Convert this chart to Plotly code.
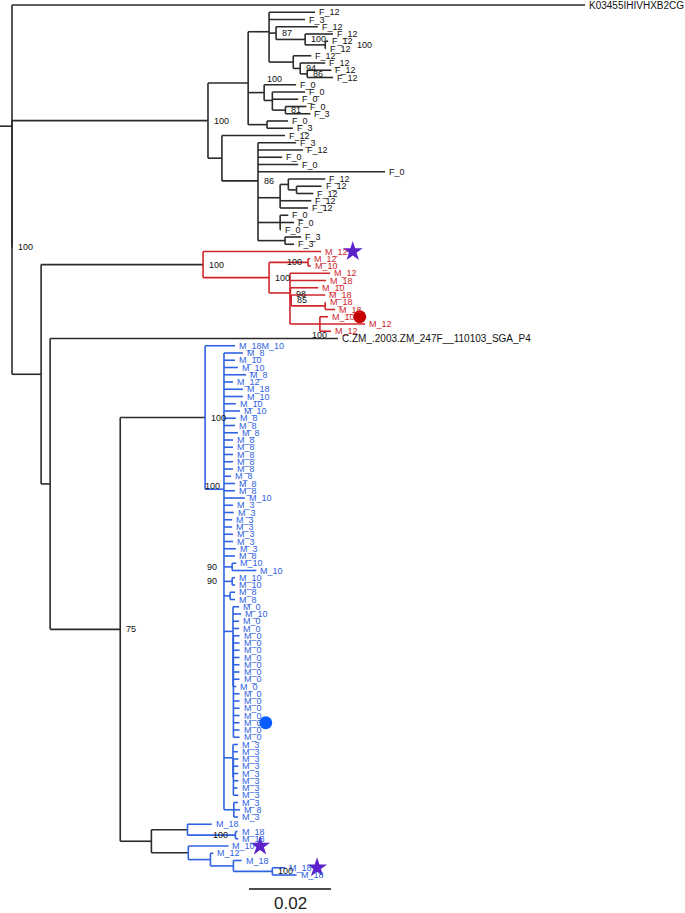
import plotly.graph_objects as go

# ------------------------------------------------------------------ data
# Branch lengths in substitutions/site; internal labels are bootstrap support.
# "#ID" names a node, "^star"/"^dot" flags a highlighted sequence.
F_CLADE = (
    "(((F_12:0.0112,F_3:0.0088,(F_12:0.0102,(F_12:0.0068,(F_12:0.0007,F_12:0.0002)100#NY:0.0049)100:0.0071)87:0.0017,"
    "(F_12:0.0044,(F_12:0.0061,(F_12:0.0059,F_12:0.0063)86:0.0017)94:0.0017):0.0059):0.0051,"
    "(F_0:0.0078,(F_0:0.0080,F_0:0.0063,(F_0:0.0051,F_3:0.0061)81:0.0032):0.0020):0.0039,"
    "(F_0:0.0051,F_3:0.0063):0.0046)100#F1:0.0098,"
    "(F_12:0.0154,(F_3:0.0093,F_12:0.0110,F_0:0.0059,F_0:0.0098,F_0:0.0310,"
    "((F_12:0.0090,(F_12:0.0061,F_12:0.0041):0.0020):0.0020,F_12:0.0076,F_12:0.0068):0.0054,"
    "(F_0:0.0020,F_0:0.0034,F_0:0.0002):0.0054,(F_3:0.0039,F_3:0.0022):0.0066)86:0.0088):0.0034)100:0.0478"
)

RED_CLADE = (
    "(M_12^star:0.0288,((M_12:0.0005,M_10:0.0007)100#R1:0.0095,"
    "(M_12:0.0098,M_18:0.0088,(M_10:0.0068,(M_18:0.0083,(M_18:0.0001,M_18:0.0024):0.0083)85:0.0002)98:0.0001,"
    "(M_10^dot:0.0020,M_12:0.0110,M_12:0.0027):0.0073):0.0051)100:0.0161)100:0.0395"
)

BLUE_A = (
    "(M_18M_10:0.0073,(M_8:0.0046,M_10:0.0027,M_10:0.0034,M_8:0.0054,M_12:0.0022,M_18:0.0046,"
    "M_10:0.0046,M_10:0.0029,M_10:0.0039,M_8:0.0029,M_8:0.0027,M_8:0.0034,M_8:0.0022,M_8:0.0022,"
    "M_8:0.0022,M_8:0.0022,M_8:0.0022,M_8:0.0017,M_8:0.0027,M_8:0.0027,M_10:0.0051,"
    "M_3:0.0022,M_3:0.0024,M_3:0.0020,M_3:0.0020,M_3:0.0022,M_3:0.0022,M_3:0.0029,M_8:0.0027,"
    "(M_10:0.0010,M_10:0.0059)90#N90a:0.0020,(M_10:0.0007,M_10:0.0007)90#N90b:0.0020,"
    "(M_8:0.0012,M_8:0.0012):0.0015,"
    "(M_0:0.0015,M_10:0.0020,M_0:0.0015,M_0:0.0015,(M_0:0.0015,M_0:0.0015,M_0:0.0015,M_0:0.0015,"
    "M_0:0.0015,M_0:0.0015,M_0:0.0015,M_0:0.0007,M_0:0.0015,M_0:0.0015,M_0:0.0015,M_0:0.0015,"
    "M_0^dot:0.0015,M_0:0.0015,M_0:0.0015):0.0001):0.0022,"
    "(M_3:0.0012,M_3:0.0012,(M_3:0.0012,M_3:0.0012,M_3:0.0012,M_3:0.0012,M_3:0.0010,M_3:0.0012):0.0001):0.0022,"
    "(M_3:0.0010,M_8:0.0015,M_3:0.0010):0.0024)100#B:0.0046)100:0.0207"
)

BLUE_P = "(M_18:0.0059,(M_18:0.0005,M_18:0.0007)100#P2:0.0117):0.0088"

BLUE_O = (
    "(M_10^star:0.0098,(M_12:0.0007,(M_18:0.0020,(M_18^star:0.0032,M_18:0.0059)100:0.0095):0.0056):0.0054):0.0090"
)

BACKBONE = (
    "(K03455IHIVHXB2CG:0.1398,(F_CLADE,(RED_CLADE,(C.ZM_.2003.ZM_247F__110103_SGA_P4#CZM:0.0702,"
    "(BLUE_A,(BLUE_P,BLUE_O):0.0076)75:0.0171):0.0022):0.0071)100:0.0)"
)

CLADES = {"F_CLADE": F_CLADE, "RED_CLADE": RED_CLADE, "BLUE_A": BLUE_A,
          "BLUE_P": BLUE_P, "BLUE_O": BLUE_O}
TIP_SUPPORT = {"CZM": "100"}
SCALE_BAR = 0.02

# ------------------------------------------------------------------ style
BLACK = "#2b2b2b"
RED = "#d0262b"
BLUE = "#2f63e3"
CLADE_COLOURS = {"F_CLADE": BLACK, "RED_CLADE": RED, "BLUE_A": BLUE, "BLUE_P": BLUE, "BLUE_O": BLUE}
STAR_COLOUR = "#5b22cc"
DOT_COLOUR = {RED: "#c60000", BLUE: "#0a5cff"}
FONT = "Liberation Sans, Arial, sans-serif"
W, H = 685, 913
PX_PER_UNIT = 4100.0
ROOT_PX = 12.0
ROW_PX = 7.25
TOP_PX = 5.0
LINE_W = 1.6
SUPPORT_STYLE = {
    "NY": dict(xshift=30),
    "F1": dict(xshift=17, yshift=4),
    "R1": dict(xanchor="right", xshift=-4),
    "B": dict(xanchor="right", xshift=-2, yshift=3),
    "N90a": dict(xanchor="right", xshift=-13),
    "N90b": dict(xanchor="right", xshift=-13),
    "P2": dict(xanchor="right", xshift=-5),
}


# ------------------------------------------------------------------ tree
def parse(s):
    pos = 0

    def node():
        nonlocal pos
        n = {"children": [], "raw": "", "len": 0.0}
        if s[pos] == "(":
            pos += 1
            while True:
                n["children"].append(node())
                if s[pos] == ",":
                    pos += 1
                    continue
                if s[pos] == ")":
                    pos += 1
                    break
        start = pos
        while pos < len(s) and s[pos] not in "(),:;":
            pos += 1
        n["raw"] = s[start:pos]
        if pos < len(s) and s[pos] == ":":
            pos += 1
            start = pos
            while pos < len(s) and s[pos] not in "(),;":
                pos += 1
            n["len"] = float(s[start:pos])
        return n

    return node()


def name_parts(n, colour):
    raw = n["raw"]
    marker = nid = None
    if "^" in raw:
        raw, marker = raw.split("^", 1)
    if "#" in raw:
        raw, nid = raw.split("#", 1)
    n["label"], n["id"], n["marker"] = raw, nid, marker
    n["color"] = colour


def finish(n, colour):
    name_parts(n, colour)
    for c in n["children"]:
        finish(c, colour)


def build(n):
    for i, c in enumerate(n["children"]):
        if not c["children"] and c["raw"] in CLADES:
            key = c["raw"]
            sub = parse(CLADES[key])
            finish(sub, CLADE_COLOURS[key])
            n["children"][i] = sub
        else:
            name_parts(c, BLACK)
            build(c)


root = parse(BACKBONE)
name_parts(root, BLACK)
build(root)

leaves = []


def layout(n, x):
    n["x"] = x
    if not n["children"]:
        n["y"] = float(len(leaves))
        leaves.append(n)
    else:
        for c in n["children"]:
            layout(c, x + c["len"])
        n["y"] = sum(c["y"] for c in n["children"]) / len(n["children"])


layout(root, 0.0)

x_min = -ROOT_PX / PX_PER_UNIT
x_max = (W - ROOT_PX) / PX_PER_UNIT
y_top = -TOP_PX / ROW_PX
y_bot = (H - TOP_PX) / ROW_PX

segs = {}


def add(colour, x0, y0, x1, y1):
    xs, ys = segs.setdefault(colour, ([], []))
    xs += [x0, x1, None]
    ys += [y0, y1, None]


internal = []


def walk(n, parent):
    if parent is not None:
        add(parent["color"], parent["x"], n["y"], n["x"], n["y"])
    if n["children"]:
        internal.append(n)
        ys = [c["y"] for c in n["children"]]
        add(n["color"], n["x"], min(ys), n["x"], max(ys))
        for c in n["children"]:
            walk(c, n)


walk(root, None)
add(BLACK, x_min, root["y"], 0.0, root["y"])

fig = go.Figure()
for colour, (xs, ys) in segs.items():
    fig.add_trace(go.Scatter(x=xs, y=ys, mode="lines",
                             line=dict(color=colour, width=LINE_W),
                             hoverinfo="skip", showlegend=False))

annotations = []
star_x, star_y = [], []
dot_pts = {}
for lf in leaves:
    big = len(lf["label"]) > 10
    annotations.append(dict(
        x=lf["x"], y=lf["y"], text=lf["label"], showarrow=False,
        xanchor="left", yanchor="middle", xshift=2,
        font=dict(family=FONT, size=10 if big else 9,
                  color=lf["color"] if lf["color"] != BLACK else "#111")))
    if lf["marker"]:
        mx = lf["x"] + (2 + 5.4 * len(lf["label"]) + 8) / PX_PER_UNIT
        if lf["marker"] == "star":
            star_x.append(mx)
            star_y.append(lf["y"])
        else:
            dot_pts.setdefault(lf["color"], ([], []))
            dot_pts[lf["color"]][0].append(mx)
            dot_pts[lf["color"]][1].append(lf["y"])
    if lf["id"] in TIP_SUPPORT:
        annotations.append(dict(
            x=lf["x"], y=lf["y"], text=TIP_SUPPORT[lf["id"]], showarrow=False,
            xanchor="right", yanchor="middle", xshift=-9, yshift=4,
            font=dict(family=FONT, size=9, color="#111")))

for n in internal:
    if n["label"]:
        st = dict(xanchor="left", xshift=4, yshift=0)
        st.update(SUPPORT_STYLE.get(n["id"], {}))
        annotations.append(dict(
            x=n["x"], y=n["y"], text=n["label"], showarrow=False,
            yanchor="middle", font=dict(family=FONT, size=9, color="#111"), **st))

fig.add_trace(go.Scatter(x=star_x, y=star_y, mode="markers",
                         marker=dict(symbol="star", size=15, color=STAR_COLOUR),
                         hoverinfo="skip", showlegend=False))
for colour, (xs, ys) in dot_pts.items():
    fig.add_trace(go.Scatter(x=xs, y=ys, mode="markers",
                             marker=dict(symbol="circle", size=13, color=DOT_COLOUR[colour]),
                             hoverinfo="skip", showlegend=False))

# scale bar
sb_x0 = (249 - ROOT_PX) / PX_PER_UNIT
sb_y = (889 - TOP_PX) / ROW_PX
fig.add_trace(go.Scatter(x=[sb_x0, sb_x0 + SCALE_BAR], y=[sb_y, sb_y], mode="lines",
                         line=dict(color="#111", width=1.6), hoverinfo="skip", showlegend=False))
annotations.append(dict(x=sb_x0 + SCALE_BAR / 2, y=(903 - TOP_PX) / ROW_PX, text=f"{SCALE_BAR:g}",
                        showarrow=False, xanchor="center", yanchor="middle",
                        font=dict(family=FONT, size=17, color="#222")))

fig.update_layout(
    width=W, height=H, autosize=False,
    margin=dict(l=0, r=0, t=0, b=0),
    paper_bgcolor="white", plot_bgcolor="white",
    xaxis=dict(range=[x_min, x_max], visible=False, fixedrange=True),
    yaxis=dict(range=[y_bot, y_top], visible=False, fixedrange=True),
    annotations=annotations, showlegend=False,
)

fig.write_html(
    "out.html",
    config={"displayModeBar": False},
    post_script="document.body.style.margin='0px';document.body.style.padding='0px';"
                "document.documentElement.style.overflow='hidden';",
)
